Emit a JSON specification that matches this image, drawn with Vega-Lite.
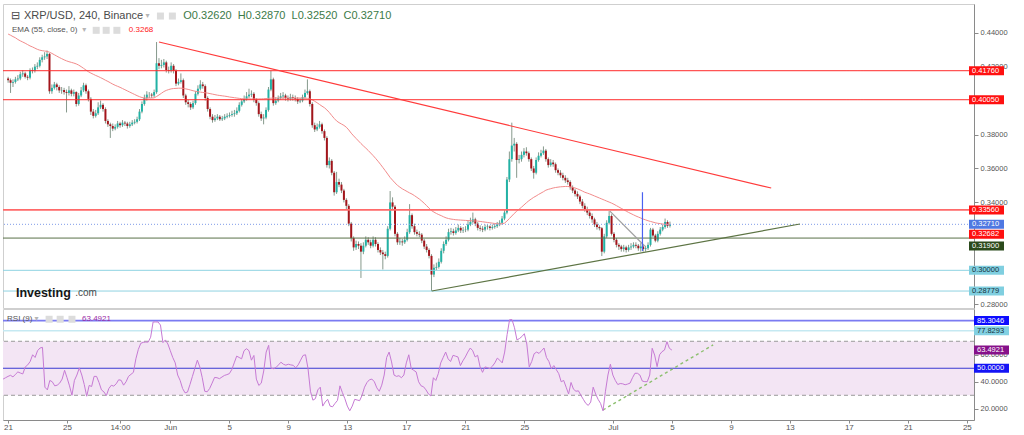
{
"$schema":"https://vega.github.io/schema/vega-lite/v6.json",
"padding":{"top":3,"left":0,"right":0,"bottom":0},
"background":"white",
"config":{"view":{"stroke":"#cfcfcf"},"axis":{"grid":false,"labelFont":"Liberation Sans","labelFontSize":7.5,"labelColor":"#555","domainColor":"#8a8a8a","tickColor":"#8a8a8a","tickSize":4,"labelPadding":2},"axisBottom":{"tickSize":3,"labelPadding":0,"labelFontSize":8},"text":{"font":"Liberation Sans"}},
"datasets":{
"k":[
{"i":-2,"o":0.413,"h":0.414,"l":0.4105,"c":0.412,"e":0.4392,"r":42},
{"i":-1,"o":0.412,"h":0.413,"l":0.4045,"c":0.4105,"e":0.4385,"r":43},
{"i":0,"o":0.4105,"h":0.4125,"l":0.408,"c":0.411,"e":0.4377,"r":44},
{"i":1,"o":0.411,"h":0.414,"l":0.41,"c":0.4125,"e":0.437,"r":44.8},
{"i":2,"o":0.4125,"h":0.415,"l":0.4115,"c":0.413,"e":0.436,"r":43.6},
{"i":3,"o":0.413,"h":0.417,"l":0.412,"c":0.4155,"e":0.4352,"r":45.5},
{"i":4,"o":0.4155,"h":0.418,"l":0.414,"c":0.416,"e":0.4345,"r":47.3},
{"i":5,"o":0.416,"h":0.417,"l":0.413,"c":0.414,"e":0.4338,"r":46.5},
{"i":6,"o":0.414,"h":0.415,"l":0.412,"c":0.4135,"e":0.433,"r":45.8},
{"i":7,"o":0.4135,"h":0.419,"l":0.4125,"c":0.418,"e":0.4322,"r":51},
{"i":8,"o":0.418,"h":0.4195,"l":0.416,"c":0.4175,"e":0.4316,"r":52.5},
{"i":9,"o":0.4175,"h":0.4215,"l":0.4165,"c":0.42,"e":0.4309,"r":55},
{"i":10,"o":0.42,"h":0.4225,"l":0.4185,"c":0.4205,"e":0.4302,"r":60},
{"i":11,"o":0.4205,"h":0.4255,"l":0.4195,"c":0.424,"e":0.4297,"r":58},
{"i":12,"o":0.424,"h":0.427,"l":0.4225,"c":0.4255,"e":0.4294,"r":63},
{"i":13,"o":0.4255,"h":0.4285,"l":0.424,"c":0.426,"e":0.4292,"r":65},
{"i":14,"o":0.426,"h":0.4295,"l":0.4245,"c":0.4275,"e":0.429,"r":65.5},
{"i":15,"o":0.4275,"h":0.428,"l":0.404,"c":0.4055,"e":0.4285,"r":36},
{"i":16,"o":0.4055,"h":0.4095,"l":0.404,"c":0.4075,"e":0.4278,"r":34},
{"i":17,"o":0.4075,"h":0.411,"l":0.4065,"c":0.4095,"e":0.427,"r":41},
{"i":18,"o":0.4095,"h":0.4105,"l":0.406,"c":0.408,"e":0.4262,"r":40},
{"i":19,"o":0.408,"h":0.409,"l":0.4045,"c":0.406,"e":0.4254,"r":37},
{"i":20,"o":0.406,"h":0.408,"l":0.404,"c":0.4062,"e":0.4247,"r":37.5},
{"i":21,"o":0.4062,"h":0.4075,"l":0.4035,"c":0.405,"e":0.424,"r":39},
{"i":22,"o":0.405,"h":0.4065,"l":0.393,"c":0.4045,"e":0.4234,"r":42},
{"i":23,"o":0.4045,"h":0.4085,"l":0.403,"c":0.406,"e":0.4229,"r":48.5},
{"i":24,"o":0.406,"h":0.407,"l":0.4025,"c":0.404,"e":0.4225,"r":43},
{"i":25,"o":0.404,"h":0.4065,"l":0.4025,"c":0.405,"e":0.4221,"r":37},
{"i":26,"o":0.405,"h":0.4055,"l":0.3965,"c":0.398,"e":0.4216,"r":30},
{"i":27,"o":0.398,"h":0.4045,"l":0.397,"c":0.403,"e":0.4209,"r":41},
{"i":28,"o":0.403,"h":0.408,"l":0.402,"c":0.406,"e":0.42,"r":45},
{"i":29,"o":0.406,"h":0.4105,"l":0.405,"c":0.409,"e":0.419,"r":50.3},
{"i":30,"o":0.409,"h":0.41,"l":0.404,"c":0.4055,"e":0.418,"r":45},
{"i":31,"o":0.4055,"h":0.4065,"l":0.3995,"c":0.401,"e":0.417,"r":38},
{"i":32,"o":0.401,"h":0.402,"l":0.3915,"c":0.3935,"e":0.4162,"r":29.3},
{"i":33,"o":0.3935,"h":0.395,"l":0.3895,"c":0.391,"e":0.4155,"r":37.3},
{"i":34,"o":0.391,"h":0.3945,"l":0.39,"c":0.3925,"e":0.4148,"r":36.5},
{"i":35,"o":0.3925,"h":0.399,"l":0.3915,"c":0.396,"e":0.4142,"r":44},
{"i":36,"o":0.396,"h":0.4,"l":0.395,"c":0.3975,"e":0.4135,"r":44},
{"i":37,"o":0.3975,"h":0.3985,"l":0.3935,"c":0.395,"e":0.4128,"r":39.5},
{"i":38,"o":0.395,"h":0.396,"l":0.3865,"c":0.388,"e":0.412,"r":34},
{"i":39,"o":0.388,"h":0.389,"l":0.3845,"c":0.386,"e":0.4113,"r":32.5},
{"i":40,"o":0.386,"h":0.387,"l":0.378,"c":0.385,"e":0.4105,"r":29.8},
{"i":41,"o":0.385,"h":0.3865,"l":0.382,"c":0.3835,"e":0.4097,"r":35},
{"i":42,"o":0.3835,"h":0.386,"l":0.3825,"c":0.3845,"e":0.409,"r":37.4},
{"i":43,"o":0.3845,"h":0.388,"l":0.3835,"c":0.3865,"e":0.4084,"r":36.8},
{"i":44,"o":0.3865,"h":0.3875,"l":0.384,"c":0.3855,"e":0.4078,"r":38.5},
{"i":45,"o":0.3855,"h":0.3885,"l":0.3845,"c":0.387,"e":0.4071,"r":41.5},
{"i":46,"o":0.387,"h":0.388,"l":0.385,"c":0.3865,"e":0.4064,"r":41.1},
{"i":47,"o":0.3865,"h":0.3875,"l":0.3835,"c":0.385,"e":0.4057,"r":37.5},
{"i":48,"o":0.385,"h":0.3875,"l":0.384,"c":0.386,"e":0.405,"r":40},
{"i":49,"o":0.386,"h":0.3885,"l":0.385,"c":0.387,"e":0.4043,"r":44},
{"i":50,"o":0.387,"h":0.389,"l":0.386,"c":0.3875,"e":0.4036,"r":45.5},
{"i":51,"o":0.3875,"h":0.3905,"l":0.3865,"c":0.389,"e":0.4029,"r":47},
{"i":52,"o":0.389,"h":0.395,"l":0.388,"c":0.3935,"e":0.4023,"r":57},
{"i":53,"o":0.3935,"h":0.3995,"l":0.3925,"c":0.398,"e":0.4018,"r":64},
{"i":54,"o":0.398,"h":0.4035,"l":0.397,"c":0.4015,"e":0.4015,"r":68.5},
{"i":55,"o":0.4015,"h":0.4055,"l":0.4,"c":0.4035,"e":0.4015,"r":69.2},
{"i":56,"o":0.4035,"h":0.405,"l":0.4015,"c":0.4035,"e":0.4015,"r":69.4},
{"i":57,"o":0.4035,"h":0.4045,"l":0.4015,"c":0.403,"e":0.4015,"r":69.4},
{"i":58,"o":0.403,"h":0.4065,"l":0.402,"c":0.405,"e":0.4016,"r":73},
{"i":59,"o":0.405,"h":0.4345,"l":0.404,"c":0.422,"e":0.4024,"r":84.3},
{"i":60,"o":0.422,"h":0.425,"l":0.4185,"c":0.4205,"e":0.4033,"r":84.3},
{"i":61,"o":0.4205,"h":0.424,"l":0.419,"c":0.421,"e":0.4043,"r":84.3},
{"i":62,"o":0.421,"h":0.4245,"l":0.4195,"c":0.4225,"e":0.4053,"r":82},
{"i":63,"o":0.4225,"h":0.4235,"l":0.4165,"c":0.418,"e":0.406,"r":69},
{"i":64,"o":0.418,"h":0.42,"l":0.416,"c":0.4175,"e":0.4065,"r":71},
{"i":65,"o":0.4175,"h":0.4225,"l":0.4165,"c":0.4205,"e":0.4069,"r":68},
{"i":66,"o":0.4205,"h":0.4215,"l":0.416,"c":0.4175,"e":0.4071,"r":63},
{"i":67,"o":0.4175,"h":0.4185,"l":0.4085,"c":0.41,"e":0.4072,"r":58},
{"i":68,"o":0.41,"h":0.413,"l":0.409,"c":0.411,"e":0.4073,"r":54},
{"i":69,"o":0.411,"h":0.416,"l":0.41,"c":0.412,"e":0.4073,"r":45},
{"i":70,"o":0.412,"h":0.413,"l":0.4015,"c":0.403,"e":0.4072,"r":41},
{"i":71,"o":0.403,"h":0.404,"l":0.3975,"c":0.399,"e":0.4069,"r":35},
{"i":72,"o":0.399,"h":0.4005,"l":0.396,"c":0.398,"e":0.4066,"r":31.8},
{"i":73,"o":0.398,"h":0.399,"l":0.3945,"c":0.396,"e":0.4062,"r":32.4},
{"i":74,"o":0.396,"h":0.4,"l":0.395,"c":0.3985,"e":0.4058,"r":38},
{"i":75,"o":0.3985,"h":0.4055,"l":0.3975,"c":0.404,"e":0.4055,"r":44},
{"i":76,"o":0.404,"h":0.409,"l":0.403,"c":0.407,"e":0.4052,"r":50},
{"i":77,"o":0.407,"h":0.412,"l":0.406,"c":0.4095,"e":0.405,"r":56},
{"i":78,"o":0.4095,"h":0.411,"l":0.407,"c":0.4085,"e":0.4048,"r":51},
{"i":79,"o":0.4085,"h":0.4095,"l":0.4,"c":0.4015,"e":0.4046,"r":43},
{"i":80,"o":0.4015,"h":0.4025,"l":0.3935,"c":0.395,"e":0.4044,"r":33},
{"i":81,"o":0.395,"h":0.396,"l":0.389,"c":0.3905,"e":0.4041,"r":32.6},
{"i":82,"o":0.3905,"h":0.392,"l":0.387,"c":0.3885,"e":0.4038,"r":35},
{"i":83,"o":0.3885,"h":0.3915,"l":0.3875,"c":0.3895,"e":0.4035,"r":39},
{"i":84,"o":0.3895,"h":0.392,"l":0.3885,"c":0.3905,"e":0.4032,"r":43.2},
{"i":85,"o":0.3905,"h":0.3915,"l":0.388,"c":0.389,"e":0.403,"r":43},
{"i":86,"o":0.389,"h":0.391,"l":0.388,"c":0.3895,"e":0.4028,"r":42.3},
{"i":87,"o":0.3895,"h":0.392,"l":0.3885,"c":0.3905,"e":0.4026,"r":43.5},
{"i":88,"o":0.3905,"h":0.3925,"l":0.3895,"c":0.391,"e":0.4024,"r":44.7},
{"i":89,"o":0.391,"h":0.393,"l":0.39,"c":0.3915,"e":0.4021,"r":45.3},
{"i":90,"o":0.3915,"h":0.394,"l":0.3905,"c":0.392,"e":0.4019,"r":46},
{"i":91,"o":0.392,"h":0.3945,"l":0.3905,"c":0.3925,"e":0.4017,"r":49},
{"i":92,"o":0.3925,"h":0.396,"l":0.3915,"c":0.394,"e":0.4015,"r":54},
{"i":93,"o":0.394,"h":0.399,"l":0.393,"c":0.3975,"e":0.4013,"r":59},
{"i":94,"o":0.3975,"h":0.401,"l":0.3965,"c":0.3995,"e":0.4011,"r":58},
{"i":95,"o":0.3995,"h":0.403,"l":0.3985,"c":0.401,"e":0.401,"r":57},
{"i":96,"o":0.401,"h":0.405,"l":0.4,"c":0.4025,"e":0.401,"r":63},
{"i":97,"o":0.4025,"h":0.407,"l":0.4015,"c":0.4035,"e":0.401,"r":64.5},
{"i":98,"o":0.4035,"h":0.406,"l":0.402,"c":0.404,"e":0.401,"r":63},
{"i":99,"o":0.404,"h":0.405,"l":0.399,"c":0.4005,"e":0.401,"r":56},
{"i":100,"o":0.4005,"h":0.4015,"l":0.397,"c":0.3985,"e":0.401,"r":59.5},
{"i":101,"o":0.3985,"h":0.3995,"l":0.3905,"c":0.392,"e":0.401,"r":42},
{"i":102,"o":0.392,"h":0.3935,"l":0.388,"c":0.3895,"e":0.401,"r":37.3},
{"i":103,"o":0.3895,"h":0.392,"l":0.386,"c":0.39,"e":0.4011,"r":39},
{"i":104,"o":0.39,"h":0.396,"l":0.389,"c":0.3945,"e":0.4012,"r":48},
{"i":105,"o":0.3945,"h":0.408,"l":0.3935,"c":0.4065,"e":0.4013,"r":62},
{"i":106,"o":0.4065,"h":0.4175,"l":0.4055,"c":0.4125,"e":0.4014,"r":67},
{"i":107,"o":0.4125,"h":0.4135,"l":0.397,"c":0.3985,"e":0.4015,"r":50},
{"i":108,"o":0.3985,"h":0.402,"l":0.3975,"c":0.4,"e":0.4015,"r":49.7},
{"i":109,"o":0.4,"h":0.403,"l":0.399,"c":0.4015,"e":0.4015,"r":50.6},
{"i":110,"o":0.4015,"h":0.4045,"l":0.4005,"c":0.4025,"e":0.4015,"r":52.5},
{"i":111,"o":0.4025,"h":0.405,"l":0.401,"c":0.403,"e":0.4015,"r":54.5},
{"i":112,"o":0.403,"h":0.404,"l":0.4,"c":0.4015,"e":0.4015,"r":53},
{"i":113,"o":0.4015,"h":0.403,"l":0.3995,"c":0.401,"e":0.4015,"r":52.3},
{"i":114,"o":0.401,"h":0.404,"l":0.4,"c":0.402,"e":0.4015,"r":53},
{"i":115,"o":0.402,"h":0.4035,"l":0.4,"c":0.4015,"e":0.4015,"r":52.5},
{"i":116,"o":0.4015,"h":0.403,"l":0.3995,"c":0.401,"e":0.4015,"r":52.2},
{"i":117,"o":0.401,"h":0.402,"l":0.398,"c":0.3995,"e":0.4015,"r":50.3},
{"i":118,"o":0.3995,"h":0.4015,"l":0.3985,"c":0.4,"e":0.4015,"r":52.5},
{"i":119,"o":0.4,"h":0.4035,"l":0.399,"c":0.402,"e":0.4015,"r":56},
{"i":120,"o":0.402,"h":0.4065,"l":0.401,"c":0.4045,"e":0.4015,"r":59.5},
{"i":121,"o":0.4045,"h":0.4125,"l":0.4035,"c":0.4055,"e":0.4013,"r":60},
{"i":122,"o":0.4055,"h":0.4065,"l":0.3965,"c":0.398,"e":0.401,"r":50},
{"i":123,"o":0.398,"h":0.399,"l":0.384,"c":0.3855,"e":0.4004,"r":33},
{"i":124,"o":0.3855,"h":0.387,"l":0.3815,"c":0.383,"e":0.3996,"r":26.4},
{"i":125,"o":0.383,"h":0.3865,"l":0.382,"c":0.3845,"e":0.3987,"r":27.5},
{"i":126,"o":0.3845,"h":0.388,"l":0.3835,"c":0.386,"e":0.3977,"r":34},
{"i":127,"o":0.386,"h":0.387,"l":0.3805,"c":0.382,"e":0.3967,"r":36},
{"i":128,"o":0.382,"h":0.383,"l":0.3765,"c":0.378,"e":0.3958,"r":22},
{"i":129,"o":0.378,"h":0.379,"l":0.3605,"c":0.362,"e":0.3945,"r":25},
{"i":130,"o":0.362,"h":0.3665,"l":0.36,"c":0.3645,"e":0.393,"r":27},
{"i":131,"o":0.3645,"h":0.3655,"l":0.356,"c":0.3575,"e":0.3912,"r":22},
{"i":132,"o":0.3575,"h":0.3585,"l":0.344,"c":0.346,"e":0.3895,"r":21.5},
{"i":133,"o":0.346,"h":0.358,"l":0.345,"c":0.352,"e":0.388,"r":24},
{"i":134,"o":0.352,"h":0.354,"l":0.349,"c":0.3505,"e":0.387,"r":26.2},
{"i":135,"o":0.3505,"h":0.352,"l":0.3455,"c":0.347,"e":0.3862,"r":37},
{"i":136,"o":0.347,"h":0.348,"l":0.34,"c":0.3415,"e":0.3854,"r":32},
{"i":137,"o":0.3415,"h":0.3425,"l":0.336,"c":0.338,"e":0.3843,"r":27.5},
{"i":138,"o":0.338,"h":0.339,"l":0.326,"c":0.3275,"e":0.3827,"r":22},
{"i":139,"o":0.3275,"h":0.3285,"l":0.317,"c":0.319,"e":0.3808,"r":18.5},
{"i":140,"o":0.319,"h":0.32,"l":0.3115,"c":0.3135,"e":0.3792,"r":22},
{"i":141,"o":0.3135,"h":0.3175,"l":0.312,"c":0.3155,"e":0.3777,"r":27},
{"i":142,"o":0.3155,"h":0.317,"l":0.3125,"c":0.3145,"e":0.3762,"r":26.5},
{"i":143,"o":0.3145,"h":0.316,"l":0.2955,"c":0.311,"e":0.3747,"r":26},
{"i":144,"o":0.311,"h":0.3165,"l":0.3095,"c":0.3145,"e":0.3733,"r":30},
{"i":145,"o":0.3145,"h":0.32,"l":0.3135,"c":0.318,"e":0.372,"r":36},
{"i":146,"o":0.318,"h":0.3195,"l":0.315,"c":0.3165,"e":0.3706,"r":39.5},
{"i":147,"o":0.3165,"h":0.318,"l":0.313,"c":0.3145,"e":0.3691,"r":41.5},
{"i":148,"o":0.3145,"h":0.32,"l":0.3135,"c":0.318,"e":0.3676,"r":42},
{"i":149,"o":0.318,"h":0.3195,"l":0.314,"c":0.3155,"e":0.366,"r":40},
{"i":150,"o":0.3155,"h":0.3165,"l":0.3105,"c":0.312,"e":0.3643,"r":35.5},
{"i":151,"o":0.312,"h":0.3135,"l":0.309,"c":0.3105,"e":0.3625,"r":33},
{"i":152,"o":0.3105,"h":0.312,"l":0.3005,"c":0.3095,"e":0.3606,"r":37.5},
{"i":153,"o":0.3095,"h":0.311,"l":0.3065,"c":0.3085,"e":0.3587,"r":45},
{"i":154,"o":0.3085,"h":0.326,"l":0.3075,"c":0.3245,"e":0.3567,"r":58},
{"i":155,"o":0.3245,"h":0.3467,"l":0.3235,"c":0.34,"e":0.3547,"r":62},
{"i":156,"o":0.34,"h":0.343,"l":0.336,"c":0.3375,"e":0.3531,"r":54.7},
{"i":157,"o":0.3375,"h":0.3385,"l":0.32,"c":0.3215,"e":0.3515,"r":45},
{"i":158,"o":0.3215,"h":0.3225,"l":0.315,"c":0.3165,"e":0.3501,"r":44},
{"i":159,"o":0.3165,"h":0.319,"l":0.315,"c":0.317,"e":0.349,"r":44.5},
{"i":160,"o":0.317,"h":0.3185,"l":0.3145,"c":0.3165,"e":0.348,"r":43},
{"i":161,"o":0.3165,"h":0.32,"l":0.3155,"c":0.318,"e":0.3472,"r":45},
{"i":162,"o":0.318,"h":0.3245,"l":0.317,"c":0.3225,"e":0.3464,"r":54},
{"i":163,"o":0.3225,"h":0.339,"l":0.3215,"c":0.3325,"e":0.3456,"r":60},
{"i":164,"o":0.3325,"h":0.3335,"l":0.3245,"c":0.326,"e":0.3449,"r":49.7},
{"i":165,"o":0.326,"h":0.3275,"l":0.321,"c":0.3225,"e":0.344,"r":48.5},
{"i":166,"o":0.3225,"h":0.324,"l":0.32,"c":0.3215,"e":0.343,"r":47.3},
{"i":167,"o":0.3215,"h":0.323,"l":0.3195,"c":0.321,"e":0.342,"r":40},
{"i":168,"o":0.321,"h":0.322,"l":0.316,"c":0.3175,"e":0.3408,"r":37},
{"i":169,"o":0.3175,"h":0.3185,"l":0.3125,"c":0.314,"e":0.3395,"r":36.3},
{"i":170,"o":0.314,"h":0.3155,"l":0.3105,"c":0.312,"e":0.3381,"r":34},
{"i":171,"o":0.312,"h":0.313,"l":0.307,"c":0.3085,"e":0.3366,"r":31},
{"i":172,"o":0.3085,"h":0.3095,"l":0.2878,"c":0.2975,"e":0.3352,"r":29.5},
{"i":173,"o":0.2975,"h":0.3035,"l":0.296,"c":0.3015,"e":0.3343,"r":43},
{"i":174,"o":0.3015,"h":0.3045,"l":0.3,"c":0.302,"e":0.3335,"r":41},
{"i":175,"o":0.302,"h":0.307,"l":0.301,"c":0.305,"e":0.3328,"r":46},
{"i":176,"o":0.305,"h":0.313,"l":0.304,"c":0.3115,"e":0.3322,"r":54},
{"i":177,"o":0.3115,"h":0.317,"l":0.31,"c":0.3155,"e":0.3315,"r":58},
{"i":178,"o":0.3155,"h":0.32,"l":0.3145,"c":0.318,"e":0.3309,"r":62},
{"i":179,"o":0.318,"h":0.3245,"l":0.317,"c":0.3225,"e":0.3305,"r":57},
{"i":180,"o":0.3225,"h":0.325,"l":0.321,"c":0.323,"e":0.3302,"r":55},
{"i":181,"o":0.323,"h":0.3245,"l":0.3205,"c":0.322,"e":0.33,"r":59.6},
{"i":182,"o":0.322,"h":0.3255,"l":0.321,"c":0.3235,"e":0.3298,"r":59},
{"i":183,"o":0.3235,"h":0.327,"l":0.3225,"c":0.325,"e":0.3297,"r":58.4},
{"i":184,"o":0.325,"h":0.326,"l":0.322,"c":0.3235,"e":0.3296,"r":52},
{"i":185,"o":0.3235,"h":0.3255,"l":0.322,"c":0.3238,"e":0.3295,"r":55.5},
{"i":186,"o":0.3238,"h":0.326,"l":0.3225,"c":0.324,"e":0.3294,"r":58.4},
{"i":187,"o":0.324,"h":0.329,"l":0.323,"c":0.327,"e":0.3293,"r":62},
{"i":188,"o":0.327,"h":0.331,"l":0.326,"c":0.3285,"e":0.3292,"r":65},
{"i":189,"o":0.3285,"h":0.334,"l":0.3275,"c":0.33,"e":0.3291,"r":63},
{"i":190,"o":0.33,"h":0.331,"l":0.326,"c":0.3275,"e":0.3291,"r":58.4},
{"i":191,"o":0.3275,"h":0.3285,"l":0.3235,"c":0.325,"e":0.329,"r":59.6},
{"i":192,"o":0.325,"h":0.3265,"l":0.323,"c":0.3245,"e":0.3288,"r":51},
{"i":193,"o":0.3245,"h":0.326,"l":0.3225,"c":0.324,"e":0.3286,"r":47},
{"i":194,"o":0.324,"h":0.327,"l":0.323,"c":0.3255,"e":0.3284,"r":51},
{"i":195,"o":0.3255,"h":0.327,"l":0.324,"c":0.3258,"e":0.3282,"r":50.5},
{"i":196,"o":0.3258,"h":0.3265,"l":0.3235,"c":0.325,"e":0.328,"r":49.7},
{"i":197,"o":0.325,"h":0.327,"l":0.324,"c":0.3255,"e":0.3278,"r":51.5},
{"i":198,"o":0.3255,"h":0.3275,"l":0.3245,"c":0.326,"e":0.3276,"r":54},
{"i":199,"o":0.326,"h":0.3285,"l":0.325,"c":0.327,"e":0.3274,"r":57.5},
{"i":200,"o":0.327,"h":0.3295,"l":0.326,"c":0.328,"e":0.3273,"r":56},
{"i":201,"o":0.328,"h":0.332,"l":0.327,"c":0.3305,"e":0.3274,"r":54},
{"i":202,"o":0.3305,"h":0.3355,"l":0.3295,"c":0.334,"e":0.3278,"r":62},
{"i":203,"o":0.334,"h":0.355,"l":0.333,"c":0.3535,"e":0.329,"r":75},
{"i":204,"o":0.3535,"h":0.37,"l":0.352,"c":0.3655,"e":0.3305,"r":86},
{"i":205,"o":0.3655,"h":0.387,"l":0.364,"c":0.3735,"e":0.332,"r":86},
{"i":206,"o":0.3735,"h":0.378,"l":0.37,"c":0.3745,"e":0.3335,"r":80},
{"i":207,"o":0.3745,"h":0.3755,"l":0.3545,"c":0.365,"e":0.3348,"r":71},
{"i":208,"o":0.365,"h":0.368,"l":0.363,"c":0.3655,"e":0.336,"r":72},
{"i":209,"o":0.3655,"h":0.37,"l":0.364,"c":0.368,"e":0.3372,"r":73.5},
{"i":210,"o":0.368,"h":0.372,"l":0.3665,"c":0.37,"e":0.3385,"r":75.6},
{"i":211,"o":0.37,"h":0.3725,"l":0.3675,"c":0.369,"e":0.3398,"r":68},
{"i":212,"o":0.369,"h":0.37,"l":0.364,"c":0.3655,"e":0.341,"r":51},
{"i":213,"o":0.3655,"h":0.3665,"l":0.3585,"c":0.36,"e":0.342,"r":55},
{"i":214,"o":0.36,"h":0.3615,"l":0.354,"c":0.3575,"e":0.343,"r":60.8},
{"i":215,"o":0.3575,"h":0.3665,"l":0.3565,"c":0.365,"e":0.3438,"r":62},
{"i":216,"o":0.365,"h":0.3695,"l":0.364,"c":0.3675,"e":0.3447,"r":61},
{"i":217,"o":0.3675,"h":0.371,"l":0.3665,"c":0.369,"e":0.3455,"r":63},
{"i":218,"o":0.369,"h":0.373,"l":0.368,"c":0.3705,"e":0.3463,"r":65},
{"i":219,"o":0.3705,"h":0.3715,"l":0.364,"c":0.3655,"e":0.3472,"r":58},
{"i":220,"o":0.3655,"h":0.3665,"l":0.3605,"c":0.362,"e":0.3477,"r":55},
{"i":221,"o":0.362,"h":0.3655,"l":0.361,"c":0.3635,"e":0.3481,"r":49.7},
{"i":222,"o":0.3635,"h":0.365,"l":0.361,"c":0.3625,"e":0.3485,"r":52},
{"i":223,"o":0.3625,"h":0.3635,"l":0.3575,"c":0.359,"e":0.3488,"r":49},
{"i":224,"o":0.359,"h":0.36,"l":0.356,"c":0.3575,"e":0.349,"r":46},
{"i":225,"o":0.3575,"h":0.359,"l":0.3545,"c":0.356,"e":0.3492,"r":40},
{"i":226,"o":0.356,"h":0.3575,"l":0.353,"c":0.3545,"e":0.3493,"r":41},
{"i":227,"o":0.3545,"h":0.356,"l":0.3515,"c":0.353,"e":0.3494,"r":36},
{"i":228,"o":0.353,"h":0.3545,"l":0.3505,"c":0.352,"e":0.3494,"r":31},
{"i":229,"o":0.352,"h":0.353,"l":0.3475,"c":0.349,"e":0.3492,"r":39.5},
{"i":230,"o":0.349,"h":0.35,"l":0.3455,"c":0.347,"e":0.3489,"r":34.5},
{"i":231,"o":0.347,"h":0.348,"l":0.3435,"c":0.345,"e":0.3485,"r":33},
{"i":232,"o":0.345,"h":0.3465,"l":0.342,"c":0.3435,"e":0.348,"r":33.3},
{"i":233,"o":0.3435,"h":0.3445,"l":0.339,"c":0.3405,"e":0.3474,"r":30},
{"i":234,"o":0.3405,"h":0.342,"l":0.3365,"c":0.338,"e":0.3467,"r":27},
{"i":235,"o":0.338,"h":0.3395,"l":0.3345,"c":0.336,"e":0.346,"r":24},
{"i":236,"o":0.336,"h":0.3375,"l":0.3325,"c":0.334,"e":0.3455,"r":22.5},
{"i":237,"o":0.334,"h":0.3355,"l":0.3305,"c":0.332,"e":0.345,"r":25},
{"i":238,"o":0.332,"h":0.3335,"l":0.328,"c":0.33,"e":0.3444,"r":36},
{"i":239,"o":0.33,"h":0.331,"l":0.3255,"c":0.327,"e":0.3438,"r":31},
{"i":240,"o":0.327,"h":0.3285,"l":0.324,"c":0.3255,"e":0.3432,"r":27},
{"i":241,"o":0.3255,"h":0.3265,"l":0.3235,"c":0.3248,"e":0.3426,"r":24},
{"i":242,"o":0.3248,"h":0.3255,"l":0.3084,"c":0.311,"e":0.342,"r":18.5},
{"i":243,"o":0.311,"h":0.3215,"l":0.31,"c":0.32,"e":0.3414,"r":33},
{"i":244,"o":0.32,"h":0.3295,"l":0.319,"c":0.328,"e":0.3408,"r":45},
{"i":245,"o":0.328,"h":0.3349,"l":0.327,"c":0.332,"e":0.3402,"r":53},
{"i":246,"o":0.332,"h":0.333,"l":0.3205,"c":0.3215,"e":0.3396,"r":45},
{"i":247,"o":0.3215,"h":0.3225,"l":0.3165,"c":0.318,"e":0.3389,"r":41},
{"i":248,"o":0.318,"h":0.319,"l":0.3135,"c":0.315,"e":0.3381,"r":38},
{"i":249,"o":0.315,"h":0.316,"l":0.312,"c":0.314,"e":0.3373,"r":38.7},
{"i":250,"o":0.314,"h":0.315,"l":0.311,"c":0.3125,"e":0.3365,"r":38.5},
{"i":251,"o":0.3125,"h":0.315,"l":0.311,"c":0.3135,"e":0.3357,"r":37.8},
{"i":252,"o":0.3135,"h":0.3145,"l":0.3105,"c":0.312,"e":0.3349,"r":38.3},
{"i":253,"o":0.312,"h":0.315,"l":0.311,"c":0.3135,"e":0.3341,"r":39},
{"i":254,"o":0.3135,"h":0.316,"l":0.312,"c":0.314,"e":0.3334,"r":43},
{"i":255,"o":0.314,"h":0.3165,"l":0.313,"c":0.315,"e":0.3327,"r":46.3},
{"i":256,"o":0.315,"h":0.3165,"l":0.313,"c":0.3145,"e":0.332,"r":46.3},
{"i":257,"o":0.3145,"h":0.3155,"l":0.3115,"c":0.313,"e":0.3314,"r":45},
{"i":258,"o":0.313,"h":0.316,"l":0.311,"c":0.314,"e":0.3308,"r":40.5},
{"i":259,"o":0.314,"h":0.315,"l":0.311,"c":0.3125,"e":0.3302,"r":40.1},
{"i":260,"o":0.3125,"h":0.3145,"l":0.311,"c":0.313,"e":0.3297,"r":40.1},
{"i":261,"o":0.313,"h":0.3165,"l":0.312,"c":0.315,"e":0.3292,"r":45},
{"i":262,"o":0.315,"h":0.325,"l":0.314,"c":0.324,"e":0.3288,"r":64.8},
{"i":263,"o":0.324,"h":0.325,"l":0.3195,"c":0.3205,"e":0.3284,"r":59.8},
{"i":264,"o":0.3205,"h":0.3215,"l":0.3165,"c":0.3175,"e":0.328,"r":51.2},
{"i":265,"o":0.3175,"h":0.323,"l":0.3165,"c":0.3215,"e":0.3277,"r":60},
{"i":266,"o":0.3215,"h":0.3255,"l":0.3205,"c":0.324,"e":0.3275,"r":62.3},
{"i":267,"o":0.324,"h":0.327,"l":0.323,"c":0.3255,"e":0.3273,"r":63.5},
{"i":268,"o":0.3255,"h":0.3305,"l":0.3245,"c":0.3285,"e":0.3271,"r":69.7},
{"i":269,"o":0.3285,"h":0.3295,"l":0.325,"c":0.3262,"e":0.3269,"r":64.8},
{"i":270,"o":0.3262,"h":0.3287,"l":0.3252,"c":0.3271,"e":0.3268,"r":63.49}
],
"lv":[{"v":0.4176,"k":"r"},{"v":0.4005,"k":"r"},{"v":0.3356,"k":"r2"},{"v":0.3271,"k":"b"},{"v":0.32682,"k":"e"},{"v":0.319,"k":"g"},{"v":0.3,"k":"lb"},{"v":0.28779,"k":"lb"}],
"rl":[{"v":85.3046,"k":"b"},{"v":77.8293,"k":"lb"},{"v":63.4921,"k":"p"},{"v":50,"k":"b2"}]
},
"resolve":{"scale":{"fill":"independent","stroke":"independent","color":"independent"}},
"spacing":1,
"bounds":"flush",
"vconcat":[
{"width":971,"height":304,
"layer":[
{"data":{"name":"k"},"mark":{"type":"rule","color":"#86998c","strokeWidth":1},
 "encoding":{"x":{"field":"i","type":"quantitative","scale":{"domain":[-2.05,392.9],"nice":false,"zero":false},"axis":null},
 "y":{"field":"l","type":"quantitative","scale":{"domain":[0.2778,0.4569],"nice":false,"zero":false},"axis":{"orient":"right","values":[0.28,0.34,0.36,0.38,0.42,0.44],"format":".5f","title":null}},"y2":{"field":"h"}}},
{"data":{"name":"k"},"mark":{"type":"bar","width":2},
 "encoding":{"x":{"field":"i","type":"quantitative","scale":{"domain":[-2.05,392.9],"nice":false,"zero":false},"axis":null},
 "y":{"field":"o","type":"quantitative","scale":{"domain":[0.2778,0.4569],"nice":false,"zero":false},"axis":{"orient":"right","values":[0.28,0.34,0.36,0.38,0.42,0.44],"format":".5f","title":null}},
 "y2":{"field":"c"},
 "color":{"condition":{"test":"datum.c >= datum.o","value":"#22b2a5"},"value":"#a3151b"}}},
{"data":{"name":"k"},"mark":{"type":"line","color":"#f28b8b","strokeWidth":1},
 "encoding":{"x":{"field":"i","type":"quantitative","scale":{"domain":[-2.05,392.9],"nice":false,"zero":false},"axis":null},
 "y":{"field":"e","type":"quantitative","scale":{"domain":[0.2778,0.4569],"nice":false,"zero":false},"axis":{"orient":"right","values":[0.28,0.34,0.36,0.38,0.42,0.44],"format":".5f","title":null}}}},
{"data":{"name":"lv"},"transform":[{"filter":"datum.k != 'e'"}],"mark":{"type":"rule"},
 "encoding":{"y":{"field":"v","type":"quantitative","scale":{"domain":[0.2778,0.4569],"nice":false,"zero":false},"axis":{"orient":"right","values":[0.28,0.34,0.36,0.38,0.42,0.44],"format":".5f","title":null}},
 "stroke":{"field":"k","type":"nominal","scale":{"domain":["r","r2","b","g","lb"],"range":["#ff2a2a","#ff6a6a","#7f9be8","#5a7048","#8fd3e2"]},"legend":null},
 "strokeDash":{"condition":{"test":"datum.k == 'b'","value":[1,2]},"value":[1,0]},
 "strokeWidth":{"condition":{"test":"datum.k == 'r2'","value":1.6},"value":1}}},
{"data":{"values":[{"t":"red","i":60,"p":0.4345},{"t":"red","i":311.6,"p":0.3485},{"t":"olive","i":172.1,"p":0.2878},{"t":"olive","i":323.4,"p":0.3273},{"t":"gray","i":245.3,"p":0.3349},{"t":"gray","i":259.6,"p":0.3143},{"t":"blue","i":258.7,"p":0.346},{"t":"blue","i":258.7,"p":0.3114}]},
 "mark":{"type":"line","strokeWidth":1.2},
 "encoding":{"x":{"field":"i","type":"quantitative","scale":{"domain":[-2.05,392.9],"nice":false,"zero":false},"axis":null},
 "y":{"field":"p","type":"quantitative","scale":{"domain":[0.2778,0.4569],"nice":false,"zero":false},"axis":{"orient":"right","values":[0.28,0.34,0.36,0.38,0.42,0.44],"format":".5f","title":null}},
 "detail":{"field":"t"},
 "color":{"field":"t","type":"nominal","scale":{"domain":["red","olive","gray","blue"],"range":["#ff3b3b","#5d7444","#a0a0a0","#4a62f0"]},"legend":null}}},
{"data":{"name":"lv"},"transform":[{"filter":"datum.k != 'e' && datum.k != 'g'"}],"mark":{"type":"rect","yOffset":-4.5,"y2Offset":4.5,"x2Offset":35},
 "encoding":{"x":{"datum":392.9,"type":"quantitative","scale":{"domain":[-2.05,392.9],"nice":false,"zero":false},"axis":null},"x2":{"datum":392.9},
 "y":{"field":"v","type":"quantitative","scale":{"domain":[0.2778,0.4569],"nice":false,"zero":false},"axis":{"orient":"right","values":[0.28,0.34,0.36,0.38,0.42,0.44],"format":".5f","title":null}},"y2":{"field":"v"},
 "fill":{"field":"k","type":"nominal","scale":{"domain":["r","r2","b","e","g","lb"],"range":["#ff1010","#ff1010","#4f78e2","#ff1010","#2b4a1c","#80cfe0"]},"legend":null}}},
{"data":{"name":"lv"},"transform":[{"filter":"datum.k == 'e'"}],"mark":{"type":"rect","yOffset":5,"y2Offset":14,"x2Offset":35},
 "encoding":{"x":{"datum":392.9,"type":"quantitative","scale":{"domain":[-2.05,392.9],"nice":false,"zero":false},"axis":null},"x2":{"datum":392.9},
 "y":{"field":"v","type":"quantitative","scale":{"domain":[0.2778,0.4569],"nice":false,"zero":false},"axis":{"orient":"right","values":[0.28,0.34,0.36,0.38,0.42,0.44],"format":".5f","title":null}},"y2":{"field":"v"},
 "fill":{"field":"k","type":"nominal","legend":null}}},
{"data":{"name":"lv"},"transform":[{"filter":"datum.k == 'g'"}],"mark":{"type":"rect","yOffset":3.5,"y2Offset":12.5,"x2Offset":35},
 "encoding":{"x":{"datum":392.9,"type":"quantitative","scale":{"domain":[-2.05,392.9],"nice":false,"zero":false},"axis":null},"x2":{"datum":392.9},
 "y":{"field":"v","type":"quantitative","scale":{"domain":[0.2778,0.4569],"nice":false,"zero":false},"axis":{"orient":"right","values":[0.28,0.34,0.36,0.38,0.42,0.44],"format":".5f","title":null}},"y2":{"field":"v"},
 "fill":{"field":"k","type":"nominal","legend":null}}},
{"data":{"name":"lv"},"transform":[{"filter":"datum.k != 'e' && datum.k != 'g'"}],"mark":{"type":"text","align":"left","baseline":"middle","dx":3,"fontSize":7.5},
 "encoding":{"x":{"datum":392.9,"type":"quantitative","scale":{"domain":[-2.05,392.9],"nice":false,"zero":false},"axis":null},
 "y":{"field":"v","type":"quantitative","scale":{"domain":[0.2778,0.4569],"nice":false,"zero":false},"axis":{"orient":"right","values":[0.28,0.34,0.36,0.38,0.42,0.44],"format":".5f","title":null}},
 "text":{"field":"v","type":"quantitative","format":".5f"},
 "color":{"condition":{"test":"datum.k == 'lb'","value":"#17323e"},"value":"#ffffff"}}},
{"data":{"name":"lv"},"transform":[{"filter":"datum.k == 'e'"}],"mark":{"type":"text","align":"left","baseline":"middle","dx":3,"dy":9.5,"fontSize":7.5,"color":"#ffffff"},
 "encoding":{"x":{"datum":392.9,"type":"quantitative","scale":{"domain":[-2.05,392.9],"nice":false,"zero":false},"axis":null},
 "y":{"field":"v","type":"quantitative","scale":{"domain":[0.2778,0.4569],"nice":false,"zero":false},"axis":{"orient":"right","values":[0.28,0.34,0.36,0.38,0.42,0.44],"format":".5f","title":null}},
 "text":{"field":"v","type":"quantitative","format":".5f"}}},
{"data":{"name":"lv"},"transform":[{"filter":"datum.k == 'g'"}],"mark":{"type":"text","align":"left","baseline":"middle","dx":3,"dy":8,"fontSize":7.5,"color":"#ffffff"},
 "encoding":{"x":{"datum":392.9,"type":"quantitative","scale":{"domain":[-2.05,392.9],"nice":false,"zero":false},"axis":null},
 "y":{"field":"v","type":"quantitative","scale":{"domain":[0.2778,0.4569],"nice":false,"zero":false},"axis":{"orient":"right","values":[0.28,0.34,0.36,0.38,0.42,0.44],"format":".5f","title":null}},
 "text":{"field":"v","type":"quantitative","format":".5f"}}},
{"data":{"values":[{"i":60.6,"p":0.4498},{"i":65.5,"p":0.4498},{"i":34.2,"p":0.4414},{"i":38.3,"p":0.4414},{"i":42.7,"p":0.4414}]},
 "mark":{"type":"point","shape":"square","filled":true,"color":"#dcdcdc","size":49,"opacity":1},
 "encoding":{"x":{"field":"i","type":"quantitative","scale":{"domain":[-2.05,392.9],"nice":false,"zero":false},"axis":null},
 "y":{"field":"p","type":"quantitative","scale":{"domain":[0.2778,0.4569],"nice":false,"zero":false},"axis":{"orient":"right","values":[0.28,0.34,0.36,0.38,0.42,0.44],"format":".5f","title":null}}}},
{"data":{"values":[{"i":-0.9,"p":0.4498,"t":"⊟"},{"i":4.5,"p":0.4498,"t":"XRP/USD, 240, Binance"}]},
 "mark":{"type":"text","align":"left","baseline":"middle","fontSize":11,"color":"#4a4a4a"},
 "encoding":{"x":{"field":"i","type":"quantitative","scale":{"domain":[-2.05,392.9],"nice":false,"zero":false},"axis":null},
 "y":{"field":"p","type":"quantitative","scale":{"domain":[0.2778,0.4569],"nice":false,"zero":false},"axis":{"orient":"right","values":[0.28,0.34,0.36,0.38,0.42,0.44],"format":".5f","title":null}},"text":{"field":"t"}}},
{"data":{"values":[{"i":54.5,"p":0.4498,"t":"▾"},{"i":28.5,"p":0.4414,"t":"▾"}]},
 "mark":{"type":"text","align":"left","baseline":"middle","fontSize":8,"color":"#b5b5b5","font":"DejaVu Sans"},
 "encoding":{"x":{"field":"i","type":"quantitative","scale":{"domain":[-2.05,392.9],"nice":false,"zero":false},"axis":null},
 "y":{"field":"p","type":"quantitative","scale":{"domain":[0.2778,0.4569],"nice":false,"zero":false},"axis":{"orient":"right","values":[0.28,0.34,0.36,0.38,0.42,0.44],"format":".5f","title":null}},"text":{"field":"t"}}},
{"data":{"values":[{"i":70,"p":0.4498,"t":"O0.32620\u00a0\u00a0H0.32870\u00a0\u00a0L0.32520\u00a0\u00a0C0.32710"}]},
 "mark":{"type":"text","align":"left","baseline":"middle","fontSize":11,"color":"#3c7a48"},
 "encoding":{"x":{"field":"i","type":"quantitative","scale":{"domain":[-2.05,392.9],"nice":false,"zero":false},"axis":null},
 "y":{"field":"p","type":"quantitative","scale":{"domain":[0.2778,0.4569],"nice":false,"zero":false},"axis":{"orient":"right","values":[0.28,0.34,0.36,0.38,0.42,0.44],"format":".5f","title":null}},"text":{"field":"t"}}},
{"data":{"values":[{"i":-0.4,"p":0.4414,"t":"EMA (55, close, 0)"}]},
 "mark":{"type":"text","align":"left","baseline":"middle","fontSize":8,"color":"#555555"},
 "encoding":{"x":{"field":"i","type":"quantitative","scale":{"domain":[-2.05,392.9],"nice":false,"zero":false},"axis":null},
 "y":{"field":"p","type":"quantitative","scale":{"domain":[0.2778,0.4569],"nice":false,"zero":false},"axis":{"orient":"right","values":[0.28,0.34,0.36,0.38,0.42,0.44],"format":".5f","title":null}},"text":{"field":"t"}}},
{"data":{"values":[{"i":47.6,"p":0.4414,"t":"0.3268"}]},
 "mark":{"type":"text","align":"left","baseline":"middle","fontSize":8,"color":"#ff2020"},
 "encoding":{"x":{"field":"i","type":"quantitative","scale":{"domain":[-2.05,392.9],"nice":false,"zero":false},"axis":null},
 "y":{"field":"p","type":"quantitative","scale":{"domain":[0.2778,0.4569],"nice":false,"zero":false},"axis":{"orient":"right","values":[0.28,0.34,0.36,0.38,0.42,0.44],"format":".5f","title":null}},"text":{"field":"t"}}},
{"data":{"values":[{"i":1.2,"p":0.2868,"t":"Investing"}]},
 "mark":{"type":"text","align":"left","baseline":"middle","fontSize":12.5,"fontWeight":"bold","color":"#161616"},
 "encoding":{"x":{"field":"i","type":"quantitative","scale":{"domain":[-2.05,392.9],"nice":false,"zero":false},"axis":null},
 "y":{"field":"p","type":"quantitative","scale":{"domain":[0.2778,0.4569],"nice":false,"zero":false},"axis":{"orient":"right","values":[0.28,0.34,0.36,0.38,0.42,0.44],"format":".5f","title":null}},"text":{"field":"t"}}},
{"data":{"values":[{"i":25.6,"p":0.2864,"t":".com"}]},
 "mark":{"type":"text","align":"left","baseline":"middle","fontSize":10,"color":"#4a4a4a"},
 "encoding":{"x":{"field":"i","type":"quantitative","scale":{"domain":[-2.05,392.9],"nice":false,"zero":false},"axis":null},
 "y":{"field":"p","type":"quantitative","scale":{"domain":[0.2778,0.4569],"nice":false,"zero":false},"axis":{"orient":"right","values":[0.28,0.34,0.36,0.38,0.42,0.44],"format":".5f","title":null}},"text":{"field":"t"}}}
]
},
{"width":971,"height":111,
"layer":[
{"data":{"values":[{}]},"mark":{"type":"rect","color":"#f3e5f4"},
 "encoding":{"x":{"datum":-2.05,"type":"quantitative","scale":{"domain":[-2.05,392.9],"nice":false,"zero":false},"axis":{"orient":"bottom","values":[0,24,45.5,66,90,114,138,162,186,210,246,270,294,318,342,366,390],"labelExpr":"['21','25','14:00','Jun','5','9','13','17','21','25','Jul','5','9','13','17','21','25'][indexof([0,24,45.5,66,90,114,138,162,186,210,246,270,294,318,342,366,390], datum.value)]","title":null}},"x2":{"datum":392.9},
 "y":{"datum":30,"type":"quantitative","scale":{"domain":[11.7,93.9],"nice":false,"zero":false},"axis":{"orient":"right","values":[20,40,60],"format":".4f","title":null}},"y2":{"datum":70}}},
{"data":{"values":[{"v":70},{"v":30}]},"mark":{"type":"rule","color":"#9a9a9a","strokeDash":[4,3],"strokeWidth":1},
 "encoding":{"y":{"field":"v","type":"quantitative","scale":{"domain":[11.7,93.9],"nice":false,"zero":false},"axis":{"orient":"right","values":[20,40,60],"format":".4f","title":null}}}},
{"data":{"name":"rl"},"transform":[{"filter":"datum.k != 'p'"}],"mark":{"type":"rule"},
 "encoding":{"y":{"field":"v","type":"quantitative","scale":{"domain":[11.7,93.9],"nice":false,"zero":false},"axis":{"orient":"right","values":[20,40,60],"format":".4f","title":null}},
 "stroke":{"field":"k","type":"nominal","scale":{"domain":["b","lb","b2"],"range":["#7b7bf2","#c5e9f2","#3a3ad2"]},"legend":null},
 "strokeWidth":{"condition":{"test":"datum.k == 'b2'","value":1.1},"value":1.6}}},
{"data":{"values":[{"i":242,"r":19.1},{"i":286.8,"r":67.3}]},"mark":{"type":"line","color":"#8cbf6e","strokeDash":[3,3],"strokeWidth":1.4},
 "encoding":{"x":{"field":"i","type":"quantitative","scale":{"domain":[-2.05,392.9],"nice":false,"zero":false},"axis":{"orient":"bottom","values":[0,24,45.5,66,90,114,138,162,186,210,246,270,294,318,342,366,390],"labelExpr":"['21','25','14:00','Jun','5','9','13','17','21','25','Jul','5','9','13','17','21','25'][indexof([0,24,45.5,66,90,114,138,162,186,210,246,270,294,318,342,366,390], datum.value)]","title":null}},
 "y":{"field":"r","type":"quantitative","scale":{"domain":[11.7,93.9],"nice":false,"zero":false},"axis":{"orient":"right","values":[20,40,60],"format":".4f","title":null}}}},
{"data":{"name":"k"},"mark":{"type":"line","color":"#c67ad4","strokeWidth":1},
 "encoding":{"x":{"field":"i","type":"quantitative","scale":{"domain":[-2.05,392.9],"nice":false,"zero":false},"axis":{"orient":"bottom","values":[0,24,45.5,66,90,114,138,162,186,210,246,270,294,318,342,366,390],"labelExpr":"['21','25','14:00','Jun','5','9','13','17','21','25','Jul','5','9','13','17','21','25'][indexof([0,24,45.5,66,90,114,138,162,186,210,246,270,294,318,342,366,390], datum.value)]","title":null}},
 "y":{"field":"r","type":"quantitative","scale":{"domain":[11.7,93.9],"nice":false,"zero":false},"axis":{"orient":"right","values":[20,40,60],"format":".4f","title":null}}}},
{"data":{"name":"rl"},"mark":{"type":"rect","yOffset":-4.5,"y2Offset":4.5,"x2Offset":35},
 "encoding":{"x":{"datum":392.9,"type":"quantitative","scale":{"domain":[-2.05,392.9],"nice":false,"zero":false},"axis":{"orient":"bottom","values":[0,24,45.5,66,90,114,138,162,186,210,246,270,294,318,342,366,390],"labelExpr":"['21','25','14:00','Jun','5','9','13','17','21','25','Jul','5','9','13','17','21','25'][indexof([0,24,45.5,66,90,114,138,162,186,210,246,270,294,318,342,366,390], datum.value)]","title":null}},"x2":{"datum":392.9},
 "y":{"field":"v","type":"quantitative","scale":{"domain":[11.7,93.9],"nice":false,"zero":false},"axis":{"orient":"right","values":[20,40,60],"format":".4f","title":null}},"y2":{"field":"v"},
 "fill":{"field":"k","type":"nominal","scale":{"domain":["b","lb","p","b2"],"range":["#0d0dff","#82d0e2","#86118a","#1414f5"]},"legend":null}}},
{"data":{"name":"rl"},"mark":{"type":"text","align":"left","baseline":"middle","dx":3,"fontSize":7.5},
 "encoding":{"x":{"datum":392.9,"type":"quantitative","scale":{"domain":[-2.05,392.9],"nice":false,"zero":false},"axis":{"orient":"bottom","values":[0,24,45.5,66,90,114,138,162,186,210,246,270,294,318,342,366,390],"labelExpr":"['21','25','14:00','Jun','5','9','13','17','21','25','Jul','5','9','13','17','21','25'][indexof([0,24,45.5,66,90,114,138,162,186,210,246,270,294,318,342,366,390], datum.value)]","title":null}},
 "y":{"field":"v","type":"quantitative","scale":{"domain":[11.7,93.9],"nice":false,"zero":false},"axis":{"orient":"right","values":[20,40,60],"format":".4f","title":null}},
 "text":{"field":"v","type":"quantitative","format":".4f"},
 "color":{"condition":{"test":"datum.k == 'lb'","value":"#17323e"},"value":"#ffffff"}}},
{"data":{"values":[{"i":16.7,"r":86.3},{"i":21.2,"r":86.3},{"i":26,"r":86.3}]},
 "mark":{"type":"point","shape":"square","filled":true,"color":"#dcdcdc","size":49,"opacity":1},
 "encoding":{"x":{"field":"i","type":"quantitative","scale":{"domain":[-2.05,392.9],"nice":false,"zero":false},"axis":{"orient":"bottom","values":[0,24,45.5,66,90,114,138,162,186,210,246,270,294,318,342,366,390],"labelExpr":"['21','25','14:00','Jun','5','9','13','17','21','25','Jul','5','9','13','17','21','25'][indexof([0,24,45.5,66,90,114,138,162,186,210,246,270,294,318,342,366,390], datum.value)]","title":null}},
 "y":{"field":"r","type":"quantitative","scale":{"domain":[11.7,93.9],"nice":false,"zero":false},"axis":{"orient":"right","values":[20,40,60],"format":".4f","title":null}}}},
{"data":{"values":[{"i":-0.4,"r":86.3,"t":"RSI (9)"}]},
 "mark":{"type":"text","align":"left","baseline":"middle","fontSize":8,"color":"#555555"},
 "encoding":{"x":{"field":"i","type":"quantitative","scale":{"domain":[-2.05,392.9],"nice":false,"zero":false},"axis":{"orient":"bottom","values":[0,24,45.5,66,90,114,138,162,186,210,246,270,294,318,342,366,390],"labelExpr":"['21','25','14:00','Jun','5','9','13','17','21','25','Jul','5','9','13','17','21','25'][indexof([0,24,45.5,66,90,114,138,162,186,210,246,270,294,318,342,366,390], datum.value)]","title":null}},
 "y":{"field":"r","type":"quantitative","scale":{"domain":[11.7,93.9],"nice":false,"zero":false},"axis":{"orient":"right","values":[20,40,60],"format":".4f","title":null}},"text":{"field":"t"}}},
{"data":{"values":[{"i":10.8,"r":86.3,"t":"▾"}]},
 "mark":{"type":"text","align":"left","baseline":"middle","fontSize":8,"color":"#b5b5b5","font":"DejaVu Sans"},
 "encoding":{"x":{"field":"i","type":"quantitative","scale":{"domain":[-2.05,392.9],"nice":false,"zero":false},"axis":{"orient":"bottom","values":[0,24,45.5,66,90,114,138,162,186,210,246,270,294,318,342,366,390],"labelExpr":"['21','25','14:00','Jun','5','9','13','17','21','25','Jul','5','9','13','17','21','25'][indexof([0,24,45.5,66,90,114,138,162,186,210,246,270,294,318,342,366,390], datum.value)]","title":null}},
 "y":{"field":"r","type":"quantitative","scale":{"domain":[11.7,93.9],"nice":false,"zero":false},"axis":{"orient":"right","values":[20,40,60],"format":".4f","title":null}},"text":{"field":"t"}}},
{"data":{"values":[{"i":30.1,"r":86.3,"t":"63.4921"}]},
 "mark":{"type":"text","align":"left","baseline":"middle","fontSize":8,"color":"#9a2aa6"},
 "encoding":{"x":{"field":"i","type":"quantitative","scale":{"domain":[-2.05,392.9],"nice":false,"zero":false},"axis":{"orient":"bottom","values":[0,24,45.5,66,90,114,138,162,186,210,246,270,294,318,342,366,390],"labelExpr":"['21','25','14:00','Jun','5','9','13','17','21','25','Jul','5','9','13','17','21','25'][indexof([0,24,45.5,66,90,114,138,162,186,210,246,270,294,318,342,366,390], datum.value)]","title":null}},
 "y":{"field":"r","type":"quantitative","scale":{"domain":[11.7,93.9],"nice":false,"zero":false},"axis":{"orient":"right","values":[20,40,60],"format":".4f","title":null}},"text":{"field":"t"}}}
]
}
]
}
